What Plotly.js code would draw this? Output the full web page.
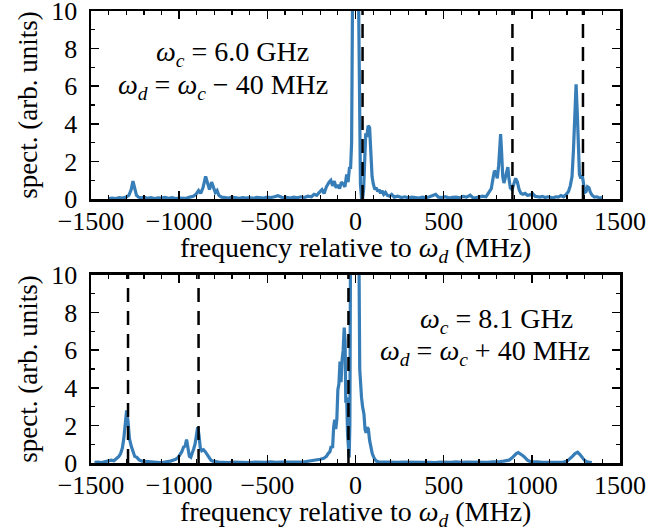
<!DOCTYPE html>
<html>
<head>
<meta charset="utf-8">
<script src="https://cdn.plot.ly/plotly-3.0.1.min.js"></script>
<style>html,body{margin:0;padding:0;background:#fff;}#chart{width:648px;height:530px;}</style>
</head>
<body>
<div id="chart"></div>
<script>
// ---- data ----
const topFreq = [-1400,-1380,-1360,-1340,-1320,-1300,-1285,-1272,-1262,-1252,-1242,-1230,-1215,-1200,-1180,-1160,-1140,-1120,-1100,-1080,-1060,-1040,-1020,-1000,-980,-960,-940,-920,-905,-890,-878,-865,-850,-838,-828,-816,-806,-795,-785,-775,-760,-740,-720,-700,-680,-660,-640,-620,-600,-580,-560,-540,-520,-500,-480,-460,-440,-425,-410,-390,-370,-350,-330,-310,-290,-270,-250,-235,-220,-205,-190,-178,-165,-150,-140,-130,-120,-110,-100,-90,-80,-70,-60,-50,-42,-34,-28,-22,-16,-5,5,16,22,28,34,40,46,52,58,64,72,80,87,94,101,110,118,126,134,142,150,160,170,180,192,205,220,240,260,280,300,320,340,360,380,400,420,440,455,470,490,510,530,550,570,590,610,630,650,665,680,700,720,740,755,770,780,788,796,804,812,818,823,828,835,842,850,858,864,870,878,888,898,908,918,928,938,950,962,975,990,1005,1018,1030,1046,1060,1075,1090,1105,1120,1135,1150,1165,1180,1195,1208,1218,1228,1236,1244,1251,1258,1264,1270,1278,1286,1292,1300,1308,1316,1324,1332,1342,1355,1370,1385,1400];
const topSpec = [0.02,0.05,0.03,0.08,0.05,0.1,0.2,0.5,0.95,0.6,0.2,0.1,0.05,0.1,0.04,0.08,0.03,0.06,0.05,0.09,0.04,0.07,0.03,0.05,0.06,0.04,0.1,0.15,0.25,0.45,0.3,0.6,1.2,0.8,0.5,0.9,0.6,0.35,0.45,0.2,0.1,0.08,0.05,0.1,0.06,0.04,0.08,0.05,0.07,0.04,0.09,0.06,0.05,0.1,0.08,0.12,0.18,0.12,0.06,0.09,0.05,0.1,0.07,0.12,0.08,0.15,0.12,0.25,0.2,0.35,0.5,0.3,0.65,0.9,1.0,0.7,0.95,0.6,0.75,0.55,0.9,0.8,0.65,1.3,0.9,1.7,1.6,3.0,12,15,15,12,4.0,0.8,0.05,0.0,0.5,2.5,3.5,3.3,3.9,3.8,2.5,1.2,0.8,0.5,0.6,0.4,0.5,0.3,0.45,0.25,0.35,0.2,0.15,0.25,0.1,0.15,0.08,0.12,0.06,0.1,0.08,0.05,0.1,0.07,0.12,0.2,0.25,0.1,0.08,0.12,0.05,0.09,0.1,0.06,0.14,0.1,0.2,0.08,0.06,0.1,0.15,0.12,0.3,0.55,1.1,1.5,1.4,1.1,1.8,3.0,3.45,2.6,1.2,0.85,1.2,1.6,1.7,1.1,0.6,0.5,0.8,1.1,0.9,0.5,0.3,0.25,0.3,0.2,0.22,0.28,0.15,0.12,0.1,0.14,0.08,0.12,0.1,0.06,0.12,0.1,0.18,0.12,0.25,0.4,0.7,1.2,2.6,4.8,6.1,4.5,2.2,1.3,1.1,1.25,0.9,0.35,0.4,0.65,0.6,0.35,0.2,0.1,0.12,0.05,0.08];

const botFreq = [-1480,-1460,-1440,-1420,-1400,-1385,-1370,-1355,-1342,-1332,-1322,-1314,-1306,-1298,-1290,-1282,-1272,-1262,-1252,-1240,-1226,-1210,-1190,-1170,-1150,-1130,-1110,-1090,-1070,-1050,-1035,-1020,-1005,-995,-985,-975,-966,-958,-950,-942,-934,-926,-918,-910,-902,-895,-888,-880,-872,-862,-852,-842,-832,-820,-808,-790,-770,-750,-720,-690,-660,-630,-600,-570,-540,-510,-480,-450,-420,-390,-360,-330,-300,-280,-260,-240,-220,-200,-180,-165,-155,-145,-138,-130,-124,-118,-112,-106,-100,-94,-88,-82,-76,-70,-64,-59,-55,-50,-45,-40,-36,-32,-28,-10,5,15,20,24,28,34,40,48,54,60,66,73,80,86,95,106,118,130,150,180,210,240,270,300,330,360,390,420,450,480,510,540,570,600,630,660,690,720,750,780,800,820,840,855,870,885,900,912,923,935,948,960,975,990,1010,1030,1060,1090,1120,1150,1180,1200,1215,1230,1245,1260,1273,1285,1298,1312,1325,1340,1355];
const botSpec = [0.03,0.05,0.02,0.06,0.1,0.15,0.12,0.25,0.35,0.5,0.8,1.3,2.0,2.8,2.2,1.3,0.9,0.6,0.35,0.3,0.15,0.1,0.08,0.05,0.03,0.05,0.02,0.04,0.06,0.1,0.15,0.2,0.3,0.45,0.6,0.85,0.9,1.25,0.9,0.35,0.3,0.6,0.75,1.0,1.4,1.9,1.5,0.8,0.65,0.7,0.6,0.45,0.35,0.15,0.1,0.05,0.03,0.04,0.02,0.05,0.03,0.04,0.02,0.05,0.03,0.04,0.06,0.03,0.05,0.04,0.06,0.05,0.05,0.08,0.1,0.12,0.15,0.2,0.25,0.35,0.5,0.6,0.9,0.8,1.9,2.3,1.8,2.3,3.9,4.2,5.4,4.3,5.5,6.0,7.2,6.5,3.2,3.5,1.5,0.5,0.3,2.0,12,16,16,12,10.5,5.0,4.2,3.5,3.0,2.6,1.8,1.6,1.9,1.8,1.2,0.9,0.5,0.25,0.1,0.06,0.05,0.04,0.06,0.03,0.05,0.04,0.02,0.05,0.03,0.04,0.02,0.05,0.03,0.04,0.06,0.03,0.05,0.04,0.03,0.05,0.04,0.06,0.05,0.08,0.1,0.12,0.15,0.25,0.4,0.5,0.55,0.5,0.4,0.3,0.15,0.08,0.05,0.06,0.04,0.05,0.03,0.05,0.05,0.1,0.2,0.35,0.5,0.57,0.45,0.3,0.15,0.06,0.03,0.02];

const topDashed = [40, 890, 1290];
const botDashed = [-1290, -890, -40];

const xTickVals = [-1500, -1000, -500, 0, 500, 1000, 1500];
const xTickText = ['\u22121500', '\u22121000', '\u2212500', '0', '500', '1000', '1500'];
const yTickVals = [0, 2, 4, 6, 8, 10];
const yTickText = ['0', '2', '4', '6', '8', '10'];

const topLabel1 = '<i>\u03c9</i><sub><i>c</i></sub> = 6.0 GHz';
const topLabel2 = '<i>\u03c9</i><sub><i>d</i></sub> = <i>\u03c9</i><sub><i>c</i></sub> \u2212 40 MHz';
const botLabel1 = '<i>\u03c9</i><sub><i>c</i></sub> = 8.1 GHz';
const botLabel2 = '<i>\u03c9</i><sub><i>d</i></sub> = <i>\u03c9</i><sub><i>c</i></sub> + 40 MHz';
const xTitle = 'frequency relative to <i>\u03c9</i><sub><i>d</i></sub> (MHz)';
const yTitle = 'spect. (arb. units)';

// ---- build ----
function dashTrace(xs, xa, ya) {
  const x = [], y = [];
  xs.forEach(v => { x.push(v, v, null); y.push(0, 10, null); });
  return {x, y, xaxis: xa, yaxis: ya, mode: 'lines', type: 'scatter',
          line: {color: 'black', width: 2.5, dash: '14px,9px'}, hoverinfo: 'skip', showlegend: false};
}
const blue = '#377eb8';
const data = [
  {x: topFreq, y: topSpec, xaxis: 'x', yaxis: 'y', mode: 'lines', type: 'scatter', line: {color: blue, width: 3.2}, showlegend: false},
  {x: botFreq, y: botSpec, xaxis: 'x2', yaxis: 'y2', mode: 'lines', type: 'scatter', line: {color: blue, width: 3.2}, showlegend: false},
  dashTrace(topDashed, 'x', 'y'),
  dashTrace(botDashed, 'x2', 'y2')
];

const FONT = "'Liberation Serif', 'Times New Roman', serif";
function xax(anchor) {
  return {anchor, range: [-1500, 1500], tickmode: 'array', tickvals: xTickVals, ticktext: xTickText,
    ticks: 'inside', ticklen: 8, tickwidth: 1.5, tickcolor: 'black',
    minor: {tickmode: 'linear', tick0: 0, dtick: 100, ticks: 'inside', ticklen: 4, tickwidth: 1.2, tickcolor: 'black'},
    showline: true, linewidth: 2.5, linecolor: 'black', mirror: 'allticks', showgrid: false, zeroline: false,
    tickfont: {family: FONT, size: 26, color: 'black'}, ticklabelstandoff: -3, ticklabeloverflow: 'allow'};
}
function yax(anchor, domain) {
  return {anchor, domain, range: [0, 10], tickmode: 'array', tickvals: yTickVals, ticktext: yTickText,
    ticks: 'inside', ticklen: 8, tickwidth: 1.5, tickcolor: 'black',
    minor: {tickmode: 'linear', tick0: 0, dtick: 1, ticks: 'inside', ticklen: 4, tickwidth: 1.2, tickcolor: 'black'},
    showline: true, linewidth: 2.5, linecolor: 'black', mirror: 'allticks', showgrid: false, zeroline: false,
    tickfont: {family: FONT, size: 26, color: 'black'}, ticklabelstandoff: 6, ticklabeloverflow: 'allow',
    title: {text: yTitle, font: {family: FONT, size: 27, color: 'black'}, standoff: 6}};
}
function ann(text, x, y, xr, yr, size) {
  return {text, x, y, xref: xr, yref: yr, showarrow: false, xanchor: 'center', yanchor: 'middle',
    font: {family: FONT, size: size || 28, color: 'black'}};
}
const layout = {
  width: 648, height: 530,
  margin: {l: 91, r: 28, t: 11, b: 67},
  paper_bgcolor: 'white', plot_bgcolor: 'white',
  showlegend: false,
  xaxis: xax('y'),
  yaxis: yax('x', [0.584, 1]),
  xaxis2: xax('y2'),
  yaxis2: yax('x2', [0, 0.416]),
  annotations: [
    ann(topLabel1, -700, 7.75, 'x', 'y'),
    ann(topLabel2, -752, 6.0, 'x', 'y'),
    ann(botLabel1, 800, 7.6, 'x2', 'y2'),
    ann(botLabel2, 735, 5.85, 'x2', 'y2'),
    ann(xTitle, 0.5, 0.472, 'paper', 'paper', 28),
    ann(xTitle, 0.5, -0.112, 'paper', 'paper', 28)
  ]
};
Plotly.newPlot('chart', data, layout, {staticPlot: true, displayModeBar: false});
</script>
</body>
</html>
